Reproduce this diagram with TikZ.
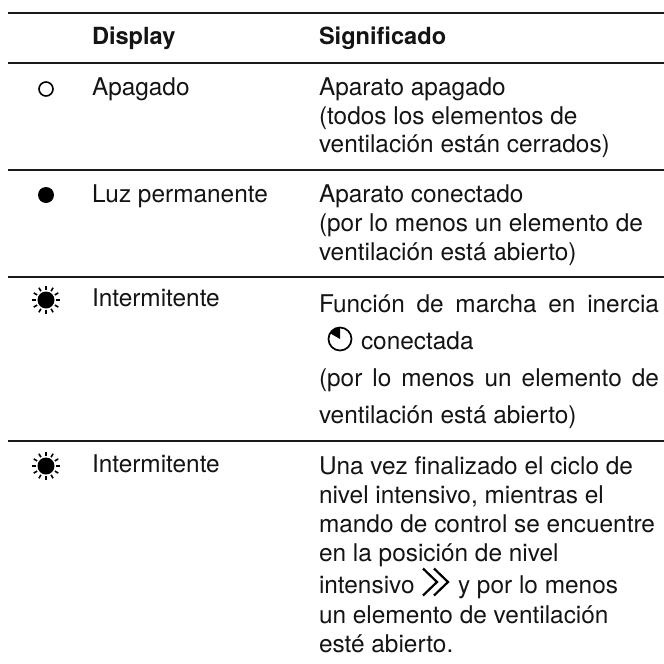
\documentclass[tikz,border=0pt]{standalone}
\usepackage{fontspec}
\setmainfont{TeX Gyre Heros}
\tikzset{
  txt/.style={anchor=base west,inner sep=0pt,outer sep=0pt,font=\fontsize{24.4}{28}\selectfont,text=black!92},
  hdr/.style={txt,font=\fontsize{23.6}{28}\selectfont\bfseries},
  rulebar/.style={line width=2pt,black!90},
  sun/.pic={
    \fill[black] (0,0) circle (8.5);
    \foreach \a in {0,30,...,330} \draw[line width=1.6pt,black] (\a:10.2) -- (\a:14.2);
  },
  chev/.style={line width=2.2pt,black,line join=miter}
}
\begin{document}
\begin{tikzpicture}[x=1pt,y=-1pt]
\useasboundingbox (0,0) rectangle (664,664);
\fill[white] (0,0) rectangle (664,664);
\foreach \y in {12.5,62.5,170,277,441} \draw[rulebar] (8,\y) -- (664,\y);
\node[hdr] (h1) at (92,44) {Display};
\node[hdr] (h2) at (319,44) {Significado};
\node[draw=black,line width=1.6pt,circle,minimum size=14pt,inner sep=0pt] (s1) at (46,89) {};
\node[txt] (a1) at (92,95) {Apagado};
\node[txt] (b1) at (319,95) {Aparato apagado};
\node[txt] (b2) at (319,124) {(todos los elementos de};
\node[txt] (b3) at (319,152) {ventilación están cerrados)};
\node[fill=black,circle,minimum size=16pt,inner sep=0pt] (s2) at (46,195) {};
\node[txt] (a2) at (92,202) {Luz permanente};
\node[txt] (c1) at (319,202) {Aparato conectado};
\node[txt] (c2) at (319,231) {(por lo menos un elemento de};
\node[txt] (c3) at (319,260) {ventilación está abierto)};
\pic at (46,300) {sun};
\node[txt] (a3) at (92,306) {Intermitente};
\node[txt] (d1) at (319,312) {\makebox[340pt][s]{Función de marcha en inercia}};
\node[txt] (d2) at (361,349) {conectada};
\draw[line width=1.7pt,black] (340,339) circle (11.5);
\fill[black] (340,339) -- (340,327.5) arc (-90:-150:11.5) -- cycle;
\node[txt] (d3) at (319,386) {\makebox[340pt][s]{(por lo menos un elemento de}};
\node[txt] (d4) at (319,423) {ventilación está abierto)};
\pic at (46,466) {sun};
\node[txt] (a4) at (92,472) {Intermitente};
\node[txt] (e1) at (319,474) {Una vez finalizado el ciclo de};
\node[txt] (e2) at (319,503) {nivel intensivo, mientras el};
\node[txt] (e3) at (319,532) {mando de control se encuentre};
\node[txt] (e4) at (319,561) {en la posición de nivel};
\node[txt] (e5) at (319,593) {intensivo};
\draw[chev] (423,568.5) -- (437,582) -- (423,595.5);
\draw[chev] (434,568.5) -- (448,582) -- (434,595.5);
\node[txt] (e6) at (458,593) {y por lo menos};
\node[txt] (e7) at (319,623) {un elemento de ventilación};
\node[txt] (e8) at (319,652) {esté abierto.};
\end{tikzpicture}
\end{document}
